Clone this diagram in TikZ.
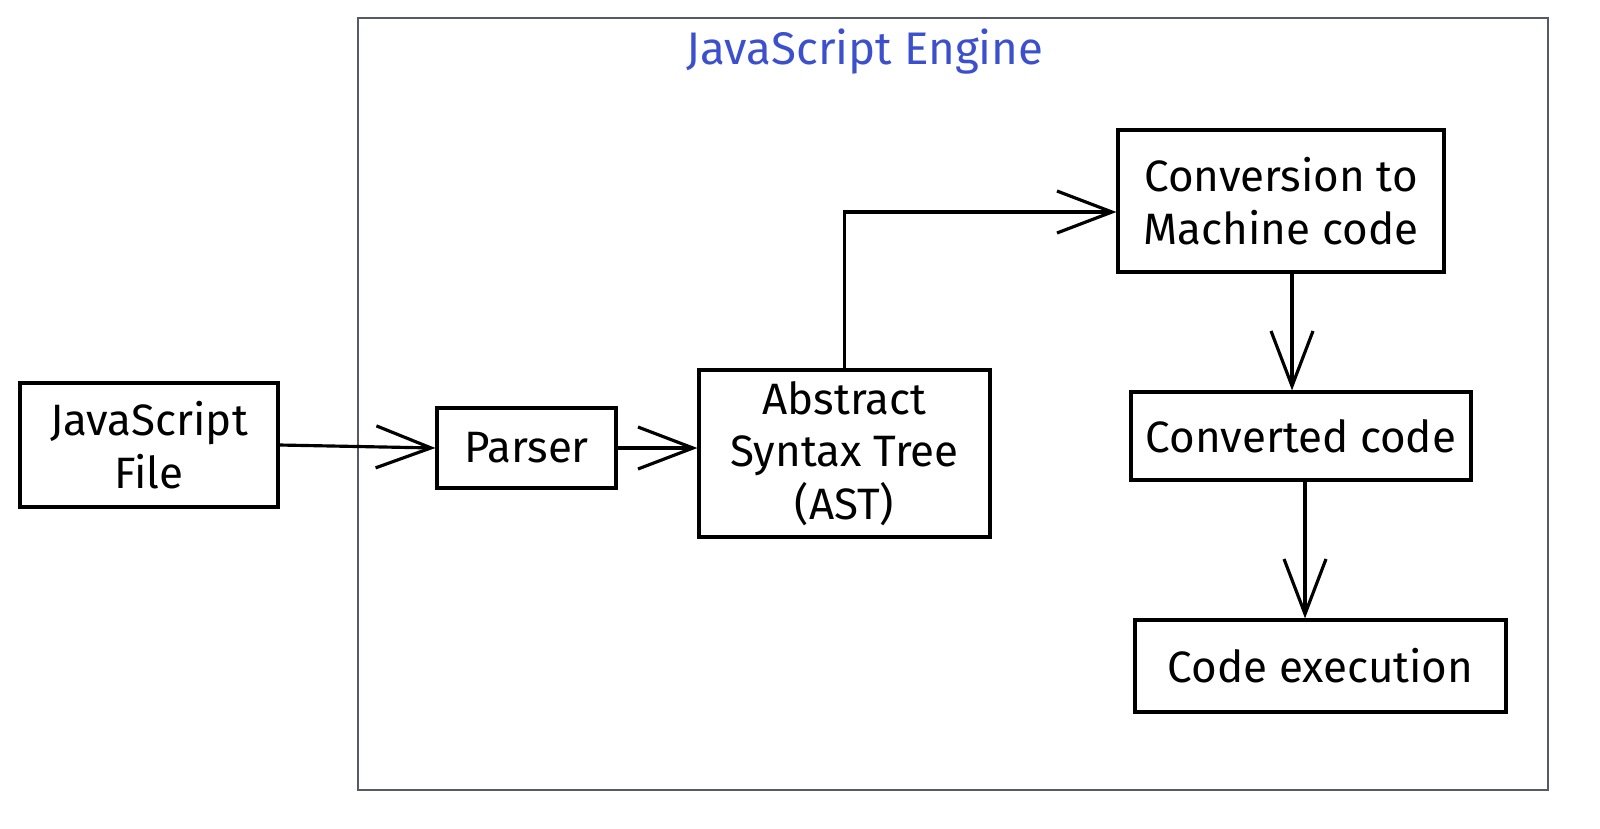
\documentclass[tikz,border=0pt]{standalone}
\usepackage{fontspec}
\setmainfont{Fira Sans}
\usetikzlibrary{arrows.meta,positioning}
\definecolor{enginegray}{RGB}{85,90,100}
\definecolor{engineblue}{RGB}{60,80,205}

\begin{document}
\begin{tikzpicture}
		[auto,
		block/.style ={rectangle, draw=black, line width=0.9pt, align=center, inner sep=2pt, font=\fontsize{12.5}{15}\selectfont},
		line/.style ={draw, line width=0.9pt, -{Straight Barb[length=5.5mm, width=4.2mm, line width=0.9pt]}},
		frame/.style ={rectangle, draw=enginegray, line width=0.8pt, minimum width=11.9cm, minimum height=7.72cm},
		]
		\useasboundingbox (0,0) rectangle (16,-8.28);

		\draw (9.53,-4.04) node[frame] (engine) {};
		\draw (8.65,-0.52) node[text=engineblue, font=\fontsize{13}{16}\selectfont] (title) {JavaScript Engine};

		\draw (1.49,-4.45) node[block, minimum width=2.58cm, minimum height=1.24cm] (file) {JavaScript\\File};
		\draw (5.265,-4.48) node[block, minimum width=1.79cm, minimum height=0.8cm] (parser) {Parser};
		\draw (8.445,-4.535) node[block, minimum width=2.91cm, minimum height=1.67cm] (ast) {Abstract\\Syntax Tree\\(AST)};
		\draw (12.81,-2.01) node[block, minimum width=3.26cm, minimum height=1.42cm] (conv) {Conversion to\\Machine code};
		\draw (13.01,-4.36) node[block, minimum width=3.4cm, minimum height=0.88cm] (conved) {Converted code};
		\draw (13.205,-6.66) node[block, minimum width=3.71cm, minimum height=0.92cm] (exec) {Code execution};

		\path[line]
		(file.east) -- (parser.west);
		\path[line]
		(parser.east) -- (parser.east -| ast.west);
		\path[line]
		(ast.north) |- ([yshift=-1.1mm]conv.west);
		\path[line]
		([xshift=1.1mm]conv.south) -- ([xshift=1.1mm]conv.south |- conved.north);
		\path[line]
		([xshift=0.4mm]conved.south) -- ([xshift=0.4mm]conved.south |- exec.north);
	\end{tikzpicture}
\end{document}
